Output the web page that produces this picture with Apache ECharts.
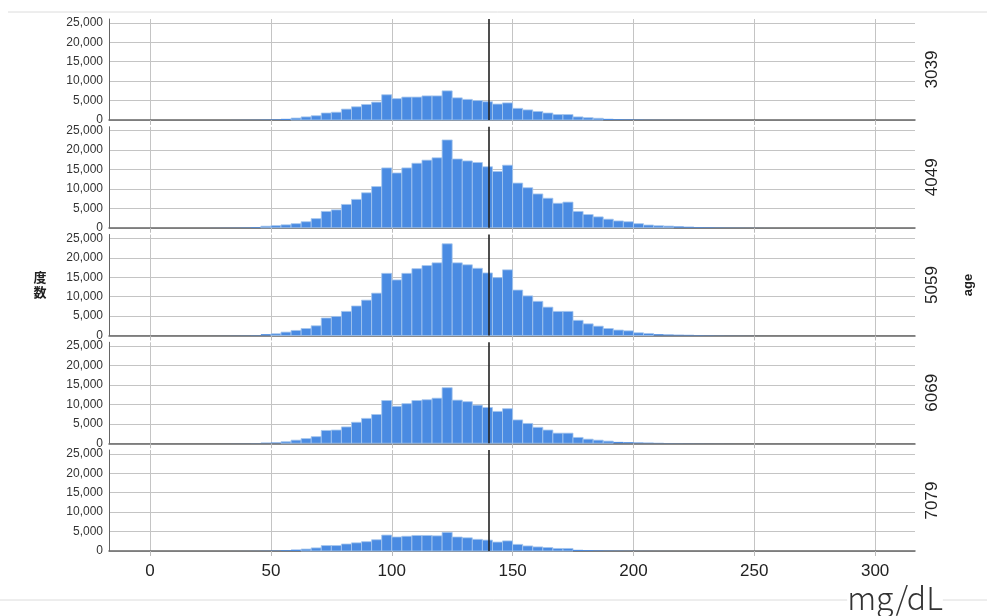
<!DOCTYPE html>
<html>
<head>
<meta charset="utf-8">
<script src="https://cdn.jsdelivr.net/npm/echarts@6/dist/echarts.min.js"></script>
<style>
  html, body { margin: 0; padding: 0; background: #fff; }
  #chart { width: 987px; height: 616px; }
</style>
</head>
<body>
<div id="chart"></div>
<script>
// Age groups, one histogram panel each
const ageGroups = ['3039', '4049', '5059', '6069', '7079'];

// Histogram bins: first edge and width (mg/dL)
const binStart = 25;
const binWidth = 50 / 12;

// Counts per bin, starting at binStart
const counts3039 = [0, 0, 20, 40, 60, 100, 150, 300, 500, 800, 1100, 1800, 2000, 2800, 3400, 4000, 4600, 6500, 5500, 5900, 5900, 6200, 6200, 7500, 5700, 5300, 5000, 4700, 4100, 4400, 3000, 2600, 2200, 1800, 1400, 1400, 800, 600, 450, 300, 200, 150, 100, 60, 40, 30, 20, 15, 10, 8, 6, 5, 4, 3, 2, 1];
const counts4049 = [20, 40, 60, 100, 200, 400, 550, 750, 1050, 1550, 2350, 4200, 4600, 6000, 7300, 9000, 10600, 15400, 14100, 15400, 16600, 17400, 18000, 22600, 17700, 17200, 16800, 15700, 14500, 16100, 11500, 10300, 8700, 7600, 6300, 6600, 4200, 3400, 2800, 2200, 1750, 1550, 1050, 700, 520, 430, 350, 260, 180, 150, 100, 70, 50, 30, 20, 10];
const counts5059 = [10, 20, 40, 60, 100, 350, 450, 870, 1300, 1800, 2500, 4500, 4900, 6200, 7600, 9100, 10900, 16000, 14300, 16000, 17200, 18000, 18700, 23600, 18700, 18200, 17300, 16100, 14900, 16900, 11700, 10200, 8800, 7300, 6200, 6200, 3900, 3000, 2400, 1800, 1400, 1200, 700, 520, 350, 260, 200, 170, 120, 90, 60, 40, 30, 20, 10, 5];
const counts6069 = [5, 10, 20, 30, 50, 150, 200, 400, 800, 1200, 1700, 3300, 3400, 4200, 5400, 6400, 7400, 11000, 9500, 10200, 11000, 11200, 11600, 14300, 11100, 10700, 9800, 9200, 8200, 8900, 6000, 5100, 4100, 3400, 2600, 2600, 1500, 1050, 800, 550, 350, 280, 200, 150, 100, 70, 50, 40, 30, 20, 15, 10, 5, 5, 3, 2];
const counts7079 = [2, 5, 10, 15, 30, 60, 100, 200, 350, 500, 800, 1400, 1400, 1800, 2100, 2400, 2900, 4100, 3600, 3800, 4000, 4000, 3900, 4800, 3600, 3400, 3000, 2800, 2300, 2600, 1700, 1300, 1050, 900, 650, 650, 300, 220, 150, 100, 80, 50, 35, 25, 15, 10, 8, 5, 4, 3, 2, 2, 1, 1, 1, 0];
const countsByGroup = [counts3039, counts4049, counts5059, counts6069, counts7079];

// Axis ticks and the reference value line
const xTicks = [0, 50, 100, 150, 200, 250, 300];
const yTicks = [0, 5000, 10000, 15000, 20000, 25000];
const refValue = 140;

// Panel layout
const PANEL_TOP = 19;
const PANEL_STEP = 107.75;
const PANEL_H = 101;
const GRID_LEFT = 109;
const GRID_RIGHT = 72;

const BAR_FILL = '#4a8be2';
const BAR_EDGE = '#a6c6ee';

function renderBin(params, api) {
  const lo = api.coord([api.value(0), api.value(2)]);
  const hi = api.coord([api.value(1), 0]);
  const h = hi[1] - lo[1];
  return {
    type: 'rect',
    shape: { x: lo[0], y: lo[1], width: hi[0] - lo[0], height: h },
    style: { fill: BAR_FILL, stroke: h > 1.5 ? BAR_EDGE : null, lineWidth: 0.8 }
  };
}

const grids = [], xAxes = [], yAxes = [], series = [], graphics = [];

ageGroups.forEach((name, i) => {
  const top = PANEL_TOP + i * PANEL_STEP;
  const isLast = i === ageGroups.length - 1;
  grids.push({ left: GRID_LEFT, right: GRID_RIGHT, top: top, height: PANEL_H });
  xAxes.push({
    type: 'value', gridIndex: i, min: -17, max: 316.5,
    minInterval: 50, maxInterval: 50,
    axisLine: { show: true, onZero: false, lineStyle: { color: '#666', width: 1.5 } },
    axisTick: { show: true, length: 5, customValues: xTicks, lineStyle: { color: '#bbb' } },
    axisLabel: {
      show: isLast, customValues: xTicks, fontSize: 17, color: '#222', margin: 12,
      fontFamily: 'Liberation Sans, Arial, sans-serif'
    },
    splitLine: { show: true, lineStyle: { color: '#c4c4c4', width: 1 } }
  });
  yAxes.push({
    type: 'value', gridIndex: i, min: 0, max: 26000, interval: 5000,
    axisLine: { show: true, onZero: false, lineStyle: { color: '#666', width: 1 } },
    axisTick: { show: false },
    axisLabel: {
      customValues: yTicks, fontSize: 12, color: '#333', margin: 6,
      fontFamily: 'Liberation Sans, Arial, sans-serif',
      formatter: v => v.toLocaleString('en-US')
    },
    splitLine: { show: true, showMaxLine: false, lineStyle: { color: '#c4c4c4', width: 1 } }
  });
  const counts = countsByGroup[i];
  series.push({
    type: 'custom', xAxisIndex: i, yAxisIndex: i,
    renderItem: renderBin,
    encode: { x: [0, 1], y: 2 },
    data: counts.map((c, k) => [binStart + k * binWidth, binStart + (k + 1) * binWidth, c]),
    markLine: {
      silent: true, symbol: 'none', label: { show: false },
      lineStyle: { color: '#222', width: 1.6, type: 'solid' },
      data: [{ xAxis: refValue }]
    }
  });
  graphics.push({
    type: 'text', x: 932, y: top + PANEL_H / 2, rotation: Math.PI / 2,
    style: {
      text: name, fontSize: 17, fill: '#222', align: 'center', verticalAlign: 'middle',
      fontFamily: 'Liberation Sans, Arial, sans-serif'
    }
  });
});

const midY = PANEL_TOP + (PANEL_STEP * (ageGroups.length - 1) + PANEL_H) / 2;

graphics.push(
  { type: 'line', shape: { x1: 8, y1: 12, x2: 987, y2: 12 }, style: { stroke: '#dcdcdc', lineWidth: 1 } },
  { type: 'line', shape: { x1: 0, y1: 600, x2: 987, y2: 600 }, style: { stroke: '#dcdcdc', lineWidth: 1 } },
  {
    type: 'text', x: 968, y: midY, rotation: Math.PI / 2,
    style: { text: 'age', fontSize: 13, fontWeight: 'bold', fill: '#222', align: 'center', verticalAlign: 'middle',
             fontFamily: 'Liberation Sans, Arial, sans-serif' }
  },
  {
    type: 'text', x: 40, y: midY,
    style: { text: '度\n数', fontSize: 13, fontWeight: 'bold', fill: '#222', align: 'center', verticalAlign: 'middle',
             lineHeight: 15, fontFamily: 'Noto Sans CJK JP, sans-serif' }
  },
  {
    type: 'text', x: 895, y: 598,
    style: { text: 'mg/dL', fontSize: 32, fill: '#333', align: 'center', verticalAlign: 'middle',
             fontFamily: 'Noto Sans CJK JP, sans-serif', fontWeight: 300, backgroundColor: '#fff' }
  }
);

const chart = echarts.init(document.getElementById('chart'), null, { renderer: 'canvas' });
chart.setOption({
  animation: false,
  backgroundColor: '#fff',
  grid: grids,
  xAxis: xAxes,
  yAxis: yAxes,
  series: series,
  graphic: graphics
});
</script>
</body>
</html>
